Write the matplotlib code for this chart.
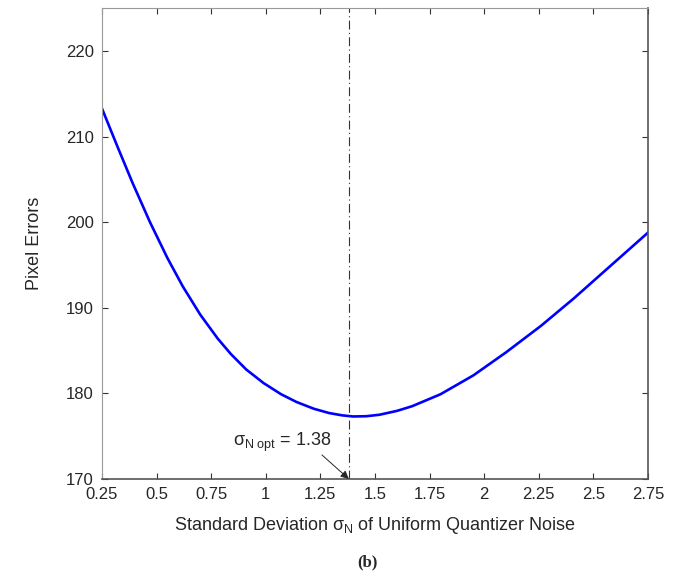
import numpy as np
import matplotlib.pyplot as plt

plt.rcParams['font.family'] = ['Liberation Sans', 'DejaVu Sans']
plt.rcParams['mathtext.fontset'] = 'custom'
plt.rcParams['mathtext.rm'] = 'Liberation Sans'
plt.rcParams['mathtext.it'] = 'Liberation Sans'

# values
sigma = [0.25, 0.32, 0.39, 0.47, 0.55, 0.62, 0.70, 0.78, 0.84, 0.91, 0.99,
         1.07, 1.14, 1.22, 1.29, 1.35, 1.40, 1.46, 1.52, 1.60, 1.67, 1.80,
         1.95, 2.10, 2.26, 2.41, 2.56, 2.75]
errors = [213.3, 208.9, 204.6, 200.0, 195.8, 192.5, 189.2, 186.4, 184.6,
          182.8, 181.2, 179.9, 179.0, 178.2, 177.7, 177.43, 177.3, 177.33,
          177.5, 177.95, 178.5, 179.9, 182.1, 184.8, 187.9, 191.1, 194.5, 198.8]
sigma_opt = 1.38

xticks = [0.25, 0.5, 0.75, 1, 1.25, 1.5, 1.75, 2, 2.25, 2.5, 2.75]
xticklabels = ['0.25', '0.5', '0.75', '1', '1.25', '1.5', '1.75', '2', '2.25', '2.5', '2.75']
yticks = [170, 180, 190, 200, 210, 220]

fig = plt.figure(figsize=(6.8, 5.77), dpi=100)
ax = fig.add_axes([0.15, 0.17, 0.803, 0.8153])

ax.plot(sigma, errors, color='#0000ff', lw=1.9, solid_joinstyle='round')
ax.axvline(sigma_opt, color='#333333', lw=0.8, ls=(0, (8, 3, 1, 3)))

ax.set_xlim(0.25, 2.75)
ax.set_ylim(170, 225)
ax.set_xticks(xticks)
ax.set_xticklabels(xticklabels)
ax.set_yticks(yticks)
ax.tick_params(direction='in', length=4.5, width=0.8, top=True, right=True,
               labelsize=12, colors='#333333', labelcolor='#262626', pad=6)

for side in ['top', 'left']:
    ax.spines[side].set_color('#999999')
for side in ['bottom', 'right']:
    ax.spines[side].set_color('#555555')
    ax.spines[side].set_linewidth(1.2)

ax.text(1.075, 174.3, r'$\sigma_{\mathrm{N\ opt}}$ = 1.38', ha='center',
        va='center', fontsize=13, color='#262626')
ax.annotate('', xy=(sigma_opt, 170), xytext=(1.257, 172.8),
            arrowprops=dict(arrowstyle='-|>', color='#262626', lw=0.7,
                            shrinkA=0, shrinkB=0, mutation_scale=12))

ax.set_xlabel(r'Standard Deviation $\sigma_{\mathrm{N}}$ of Uniform Quantizer Noise',
              fontsize=13, color='#262626', labelpad=9)
ax.set_ylabel('Pixel Errors', fontsize=13, color='#262626', labelpad=16)

fig.text(0.541, 0.026, '(b)', family='Liberation Serif', fontweight='bold',
         fontsize=12, ha='center', va='center', color='#262626')

fig.savefig('out.png', dpi=100)
